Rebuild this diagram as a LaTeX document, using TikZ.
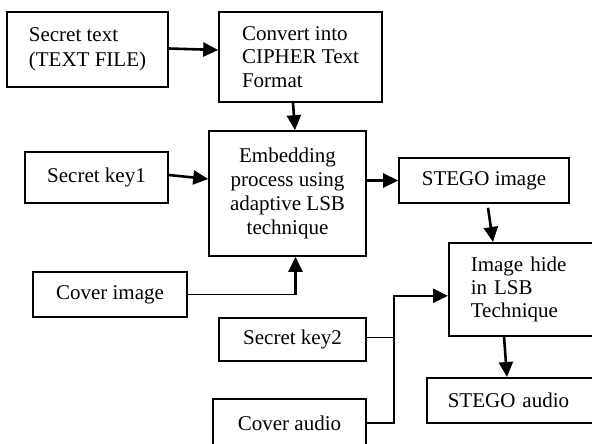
\documentclass[tikz,border=0pt]{standalone}
\usepackage{fontspec}
\setmainfont{Liberation Serif}
\usetikzlibrary{arrows.meta}
\tikzset{
  box/.style={draw, line width=1.6pt, rectangle, inner sep=2pt,
    font=\fontsize{21}{24}\selectfont},
  arr/.style={line width=2.6pt, -{Triangle[length=15pt,width=14pt]}},
  wire/.style={line width=1.7pt}
}
\begin{document}
\begin{tikzpicture}[x=1pt,y=-1pt]
\useasboundingbox (0,0) rectangle (592,444);
\clip (0,0) rectangle (592,444);
% boxes
\node[box, align=left, minimum width=161pt, minimum height=75pt,
  font=\fontsize{21}{25.5}\selectfont] (sectext) at (87.5,49.5) {Secret text\\(TEXT FILE)};
\node[box, align=left, minimum width=163pt, minimum height=90pt,
  font=\fontsize{21}{23.5}\selectfont] (convert) at (300.5,57) {Convert into\\CIPHER Text\\Format};
\node[box, minimum width=143pt, minimum height=51pt] (key1) at (96.5,177.5) {Secret key1};
\node[box, align=center, minimum width=157pt, minimum height=125pt] (embed) at (287.5,193.5)
  {Embedding\\process using\\adaptive LSB\\technique};
\node[box, minimum width=170pt, minimum height=45pt] (stegoimg) at (484,180.5) {STEGO image};
\node[box, minimum width=154pt, minimum height=45pt] (coverimg) at (110,294.5) {Cover image};
\node[box, anchor=north west, align=left, text width=140pt, inner xsep=22pt,
  minimum height=93pt, font=\fontsize{21}{23}\selectfont] (imghide) at (448,242)
  {Image hide\\in LSB\\Technique};
\node[box, minimum width=147pt, minimum height=43pt] (key2) at (292.5,339.5) {Secret key2};
\node[box, anchor=north west, align=left, text width=140pt, inner xsep=21pt,
  minimum height=45pt] (stegoaud) at (426,377) {STEGO audio};
\node[box, minimum width=153pt, minimum height=48pt] (coveraud) at (289.5,423) {Cover audio};
% connectors
\draw[arr] ([yshift=1pt]sectext.east) -- ([yshift=7pt]convert.west);
\draw[arr] ([xshift=-7.5pt]convert.south) -- ([xshift=7.5pt]embed.north);
\draw[arr] ([yshift=2.5pt]key1.east) -- ([yshift=14.5pt]embed.west);
\draw[arr] (embed.east |- stegoimg.west) -- (stegoimg.west);
\coordinate (ci) at ([xshift=8pt]embed.south |- coverimg.east);
\draw[wire] (coverimg.east) -- (ci);
\draw[arr] ([yshift=-0.8pt]ci) -- ([xshift=8pt]embed.south);
\draw[arr] ([xshift=4pt,yshift=-4pt]stegoimg.south) -- ([xshift=45pt]imghide.north west);
\coordinate (jb) at ([xshift=27pt]coveraud.east);
\coordinate (jk) at ([yshift=2pt]jb |- key2.east);
\draw[wire] ([yshift=2pt]key2.east) -- (jk);
\draw[wire] (coveraud.east) -- (jb) -- (jk);
\draw[arr] (jk) |- ([yshift=-6.5pt]imghide.west);
\draw[arr] ([xshift=56pt]imghide.south west) -- ([xshift=81pt]stegoaud.north west);
\end{tikzpicture}
\end{document}
